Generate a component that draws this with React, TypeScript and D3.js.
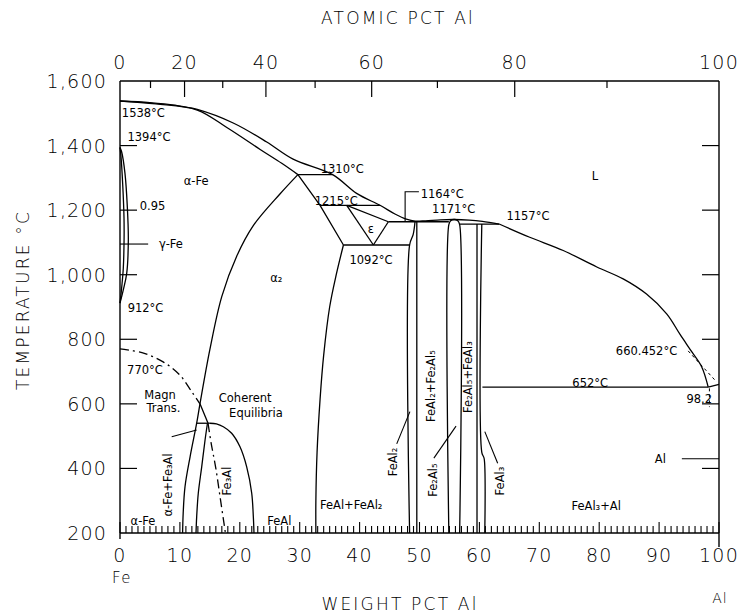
import React from "react";
import * as d3 from "d3";

type Pt = [number, number]; // [weight % Al, temperature °C]

// ---- axis values ----
const tempTicks = [1600, 1400, 1200, 1000, 800, 600, 400, 200];
const tempInnerTicks = [1400, 1200, 1000, 800, 600, 400];
const weightLabels = [0, 10, 20, 30, 40, 50, 60, 70, 80, 90, 100];
const weightMinor = d3.range(0, 101, 1);
const atomicLabels = [0, 20, 40, 60, 80, 100];
const atomicMajor = [20, 40, 60, 80];
const atomicMinor = [10, 30, 50, 70, 90];

// ---- phase boundaries (wt % Al, °C) ----
const liquidusFeSide: Pt[] = [[0, 1538], [5, 1533], [9.2, 1525], [12.9, 1512], [18.9, 1470], [24.5, 1411], [28.9, 1358], [35.5, 1310], [39.5, 1252], [43.4, 1215], [45.9, 1188], [47.8, 1172], [49.3, 1166], [51.0, 1167], [53.5, 1170], [55.8, 1171], [58.3, 1169], [60.5, 1165], [63.3, 1157]];
const liquidusAlSide: Pt[] = [[63.3, 1157], [68.4, 1116], [74.0, 1075], [79.6, 1024], [84.0, 987], [87.9, 940], [91.3, 878], [93.5, 815], [95.5, 760], [97.1, 715], [98.2, 652]];
const liquidusAlEnd: Pt[] = [[98.2, 652], [100, 660.452]];
const solidusAlpha: Pt[] = [[0, 1538], [6, 1529], [12.9, 1510], [17.9, 1455], [23.4, 1388], [27.0, 1345], [29.7, 1310]];
const gammaLoopOuter: Pt[] = [[0, 1394], [0.28, 1380], [0.83, 1314], [1.22, 1211], [1.39, 1108], [1.12, 1004], [0.55, 953], [0, 912]];
const gammaLoopInner: Pt[] = [[0, 1394], [0.15, 1370], [0.45, 1280], [0.67, 1175], [0.68, 1108], [0.55, 1020], [0.2, 945], [0, 912]];
const alpha2Dome: Pt[] = [[29.7, 1310], [26.7, 1250], [22.25, 1152], [19.5, 1058], [17.0, 933], [15.0, 768], [13.35, 600], [12.8, 540], [11.7, 436], [10.85, 343], [10.55, 262], [10.45, 200]];
const curieDashed: Pt[] = [[0, 770], [3.8, 758], [7.2, 730], [10.0, 689], [12.0, 637], [13.35, 600]];
const curieSolid: Pt[] = [[13.35, 600], [14.7, 540]];
const orderDashed: Pt[] = [[14.7, 540], [15.2, 480], [16.0, 400], [16.8, 300], [17.6, 200]];
const iso540: Pt[] = [[12.8, 540], [15.0, 540]];
const fe3AlDome: Pt[] = [[15.0, 540], [16.1, 538], [17.25, 529], [18.64, 509], [20.03, 467], [21.15, 405], [21.99, 323], [22.26, 250], [22.37, 200]];
const fe3AlInner: Pt[] = [[14.6, 540], [14.2, 488], [13.64, 405], [13.07, 323], [12.8, 250], [12.69, 200]];
const iso1310: Pt[] = [[29.7, 1310], [35.5, 1310]];
const beta2Edge: Pt[] = [[29.7, 1310], [33.4, 1215], [37.3, 1092]];
const iso1215: Pt[] = [[33.4, 1215], [43.4, 1215]];
const epsilonLeft: Pt[] = [[37.85, 1215], [42.3, 1092]];
const epsilonRight: Pt[] = [[42.3, 1092], [44.8, 1164]];
const epsilonTop: Pt[] = [[37.85, 1215], [44.8, 1164]];
const iso1092: Pt[] = [[37.3, 1092], [48.35, 1092]];
const feAlRight: Pt[] = [[37.3, 1092], [36.1, 1000], [35.0, 900], [34.0, 750], [33.4, 614], [32.9, 450], [32.7, 300], [32.7, 200]];
const iso1164: Pt[] = [[44.8, 1164], [54.9, 1164]];
const feAl2Left: Pt[] = [[48.35, 200], [48.35, 1092], [48.95, 1125], [49.25, 1164]];
const feAl2Right: Pt[] = [[49.55, 200], [49.55, 1164]];
const fe2Al5Dome: Pt[] = [[54.9, 200], [54.9, 1155], [55.2, 1167], [55.8, 1171], [56.4, 1167], [56.7, 1155], [56.7, 200]];
const iso1157: Pt[] = [[56.7, 1157], [63.3, 1157]];
const feAl3Left: Pt[] = [[59.6, 1157], [59.6, 200]];
const feAl3Right: Pt[] = [[60.4, 1157], [60.4, 450], [60.8, 430], [60.9, 200]];
const iso652: Pt[] = [[60.5, 652], [98.2, 652]];

// ---- leader lines ----
const leaders: Pt[][] = [
  [[0, 1095], [4.7, 1095]],
  [[47.6, 1164], [47.6, 1257], [49.9, 1257]],
  [[46.2, 476], [48.4, 576]],
  [[52.4, 432], [56.1, 531]],
  [[63.05, 416], [60.9, 514]],
  [[8.63, 498], [12.8, 519]],
  [[93.8, 430], [100, 430]],
];
const dashedLeaders: Pt[][] = [
  [[94.85, 764], [99.6, 668]],
  [[98.4, 648], [98.4, 590]],
];

// ---- text labels: text, wt %, °C; the listed indices are set vertically ----
const labelTexts = ["1538°C", "1394°C", "α-Fe", "0.95", "γ-Fe", "912°C", "770°C", "Magn", "Trans.", "Coherent", "Equilibria", "α₂", "1310°C", "1215°C", "ε", "1092°C", "1164°C", "1171°C", "1157°C", "L", "660.452°C", "652°C", "98.2", "Al", "FeAl₃+Al", "FeAl+FeAl₂", "FeAl", "α-Fe", "α-Fe+Fe₃Al", "Fe₃Al", "FeAl₂", "FeAl₂+Fe₂Al₅", "Fe₂Al₅", "Fe₂Al₅+FeAl₃", "FeAl₃"];
const labelWt = [3.9, 4.84, 12.7, 5.43, 8.5, 4.26, 4.17, 6.68, 7.26, 20.9, 22.7, 26.1, 37.1, 36.1, 41.9, 41.9, 53.8, 55.7, 68.1, 79.3, 87.9, 78.5, 96.7, 90.2, 79.5, 38.6, 26.6, 3.84, 8.0, 17.9, 45.5, 52.0, 52.2, 58.1, 63.4];
const labelTemp = [1501, 1427, 1290, 1213, 1094, 897, 706, 627, 587, 618, 572, 991, 1327, 1228, 1142, 1046, 1250, 1204, 1181, 1306, 764, 665, 615, 429, 284, 287, 238, 238, 349, 361, 420, 655, 364, 683, 361];
const labelRotated = [28, 29, 30, 31, 32, 33, 34];

const W = 740;
const H = 613;
const x = d3.scaleLinear().domain([0, 100]).range([120, 719]);
const y = d3.scaleLinear().domain([200, 1600]).range([533, 81]);
const atToWt = (a: number) => (100 * a * 26.98) / (a * 26.98 + (100 - a) * 55.85);

const smooth = d3.line<Pt>().x((d) => x(d[0])).y((d) => y(d[1])).curve(d3.curveCatmullRom.alpha(0.5));
const straight = d3.line<Pt>().x((d) => x(d[0])).y((d) => y(d[1]));

const smoothCurves = [liquidusFeSide, liquidusAlSide, solidusAlpha, gammaLoopOuter, gammaLoopInner, alpha2Dome, fe3AlDome, fe3AlInner, feAlRight, feAl2Left, fe2Al5Dome, feAl3Right];
const straightLines = [liquidusAlEnd, curieSolid, iso540, iso1310, beta2Edge, iso1215, epsilonLeft, epsilonRight, epsilonTop, iso1092, iso1164, feAl2Right, iso1157, feAl3Left, iso652];
const dashDot = [curieDashed, orderDashed];

const FONT = "'DejaVu Sans', sans-serif";

export default function App() {
  const x0 = x(0), x1 = x(100), yTop = y(1600), yBot = y(200);
  return (
    <svg width={W} height={H} style={{ position: "absolute", left: 0, top: 0, background: "#fff" }} fontFamily={FONT}>
      <rect width={W} height={H} fill="#fff" />
      {/* frame */}
      <g stroke="#000" strokeWidth={1.4} fill="none">
        <line x1={x0} y1={yTop} x2={x1} y2={yTop} />
        <line x1={x0} y1={yTop} x2={x0} y2={yBot + 6} />
        <line x1={x1} y1={yTop} x2={x1} y2={yBot + 14} />
        <line x1={x0} y1={yBot} x2={x1} y2={yBot} />
      </g>
      {/* bottom ticks (weight %) */}
      <g stroke="#000" strokeWidth={1.1}>
        {weightMinor.map((w) => (
          <line key={w} x1={x(w)} x2={x(w)} y1={yBot} y2={yBot - (w % 10 === 0 ? 11 : 7)} />
        ))}
      </g>
      {/* top ticks (atomic %) */}
      <g stroke="#000" strokeWidth={1.2}>
        {atomicMajor.map((a) => (
          <line key={"M" + a} x1={x(atToWt(a))} x2={x(atToWt(a))} y1={yTop} y2={yTop + 16} />
        ))}
        {atomicMinor.map((a) => (
          <line key={"m" + a} x1={x(atToWt(a))} x2={x(atToWt(a))} y1={yTop} y2={yTop + 7} />
        ))}
      </g>
      {/* side ticks */}
      <g stroke="#000" strokeWidth={1.2}>
        {tempInnerTicks.map((t) => (
          <g key={t}>
            <line x1={x0} x2={x0 + 17} y1={y(t)} y2={y(t)} />
            <line x1={x1 - 17} x2={x1} y1={y(t)} y2={y(t)} />
          </g>
        ))}
      </g>
      {/* tick labels */}
      <g fill="#000" fontSize={19} letterSpacing={1.2} fontWeight={200}>
        {tempTicks.map((t) => (
          <text key={t} x={107} y={y(t)} textAnchor="end" dominantBaseline="central">{d3.format(",")(t)}</text>
        ))}
        {weightLabels.map((w) => (
          <text key={w} x={x(w)} y={555} textAnchor="middle" dominantBaseline="central">{w}</text>
        ))}
        {atomicLabels.map((a) => (
          <text key={a} x={x(atToWt(a))} y={62} textAnchor="middle" dominantBaseline="central">{a}</text>
        ))}
      </g>
      {/* axis titles */}
      <g fill="#000" fontSize={17} letterSpacing={2.2} fontWeight={200}>
        <text x={398} y={18} textAnchor="middle" dominantBaseline="central">ATOMIC PCT Al</text>
        <text x={400} y={604} textAnchor="middle" dominantBaseline="central">WEIGHT PCT Al</text>
        <text transform="translate(23,300) rotate(-90)" textAnchor="middle" dominantBaseline="central">TEMPERATURE  °C</text>
        <text x={122} y={578} textAnchor="middle" dominantBaseline="central" fontSize={15} letterSpacing={1.5}>Fe</text>
        <text x={720} y={598} textAnchor="middle" dominantBaseline="central" fontSize={14} letterSpacing={1}>Al</text>
      </g>
      {/* phase boundaries */}
      <g stroke="#000" strokeWidth={1.3} fill="none">
        {smoothCurves.map((c, i) => <path key={"s" + i} d={smooth(c) || ""} />)}
        {straightLines.map((c, i) => <path key={"l" + i} d={straight(c) || ""} />)}
        {dashDot.map((c, i) => <path key={"d" + i} d={smooth(c) || ""} strokeDasharray="9 4 2 4" />)}
        {leaders.map((c, i) => <path key={"p" + i} d={straight(c) || ""} strokeWidth={1.1} />)}
        {dashedLeaders.map((c, i) => <path key={"q" + i} d={straight(c) || ""} strokeWidth={1} strokeDasharray="3 3" />)}
      </g>
      {/* labels */}
      <g fill="#000" fontSize={11.5}>
        {labelTexts.map((t, i) => {
          const px = x(labelWt[i]);
          const py = y(labelTemp[i]);
          const rot = labelRotated.includes(i);
          return (
            <text key={i} x={px} y={py} textAnchor="middle" dominantBaseline="central"
              transform={rot ? `rotate(-90 ${px} ${py})` : undefined}>{t}</text>
          );
        })}
      </g>
    </svg>
  );
}
